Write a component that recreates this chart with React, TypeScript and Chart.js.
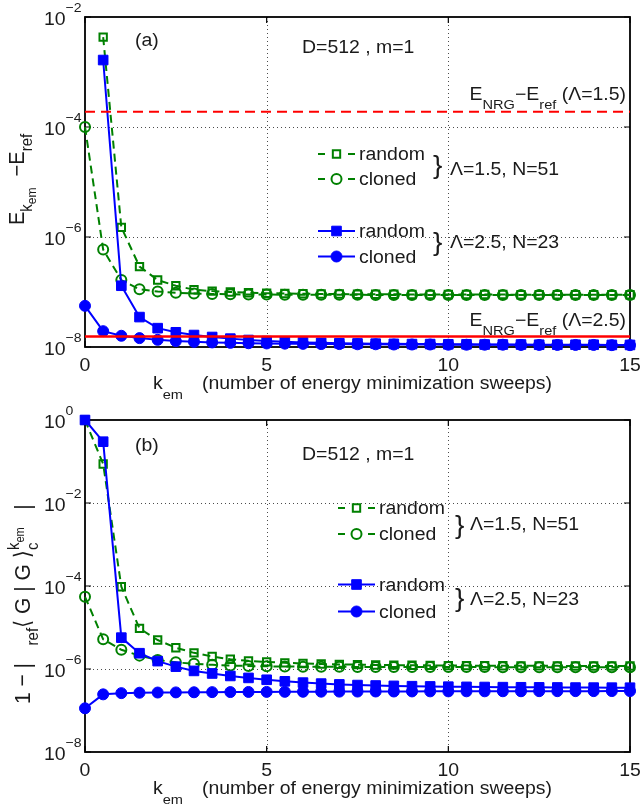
import { useEffect, useRef } from "react";
import { Chart, registerables } from "chart.js";
Chart.register(...registerables);

// ---------------- data ----------------
const kem = [0, 0.5, 1, 1.5, 2, 2.5, 3, 3.5, 4, 4.5, 5, 5.5, 6, 6.5, 7, 7.5, 8, 8.5, 9, 9.5, 10, 10.5, 11, 11.5, 12, 12.5, 13, 13.5, 14, 14.5, 15];

// panel (a): E_kem - E_ref
const energyRandom15 = [null, 4.3e-3, 1.5e-6, 2.9e-7, 1.65e-7, 1.3e-7, 1.1e-7, 1.04e-7, 1.0e-7, 9.7e-8, 9.5e-8, 9.4e-8, 9.3e-8, 9.2e-8, 9.2e-8, 9.1e-8, 9.1e-8, 9.1e-8, 9.0e-8, 9.0e-8, 9.0e-8, 9.0e-8, 9.0e-8, 9.0e-8, 8.9e-8, 8.9e-8, 8.9e-8, 8.9e-8, 8.9e-8, 8.9e-8, 8.9e-8];
const energyCloned15 = [1.0e-4, 5.9e-7, 1.65e-7, 1.12e-7, 1.02e-7, 9.7e-8, 9.4e-8, 9.2e-8, 9.1e-8, 9.0e-8, 9.0e-8, 8.9e-8, 8.9e-8, 8.9e-8, 8.9e-8, 8.9e-8, 8.8e-8, 8.8e-8, 8.8e-8, 8.8e-8, 8.8e-8, 8.8e-8, 8.8e-8, 8.8e-8, 8.8e-8, 8.8e-8, 8.8e-8, 8.8e-8, 8.8e-8, 8.8e-8, 8.8e-8];
const energyRandom25 = [null, 1.65e-3, 1.3e-7, 3.5e-8, 2.2e-8, 1.85e-8, 1.65e-8, 1.52e-8, 1.42e-8, 1.34e-8, 1.28e-8, 1.24e-8, 1.21e-8, 1.19e-8, 1.17e-8, 1.16e-8, 1.15e-8, 1.14e-8, 1.13e-8, 1.13e-8, 1.12e-8, 1.12e-8, 1.11e-8, 1.11e-8, 1.11e-8, 1.1e-8, 1.1e-8, 1.1e-8, 1.1e-8, 1.09e-8, 1.09e-8];
const energyCloned25 = [5.6e-8, 1.94e-8, 1.6e-8, 1.45e-8, 1.35e-8, 1.28e-8, 1.24e-8, 1.21e-8, 1.19e-8, 1.17e-8, 1.16e-8, 1.15e-8, 1.14e-8, 1.13e-8, 1.13e-8, 1.12e-8, 1.12e-8, 1.11e-8, 1.11e-8, 1.11e-8, 1.1e-8, 1.1e-8, 1.1e-8, 1.1e-8, 1.09e-8, 1.09e-8, 1.09e-8, 1.09e-8, 1.09e-8, 1.08e-8, 1.08e-8];
const nrgEnergy15 = 1.9e-4;
const nrgEnergy25 = 1.55e-8;

// panel (b): 1 - |<G|G>|
const overlapRandom15 = [1.0, 8.7e-2, 9.6e-5, 9.5e-6, 5.0e-6, 3.25e-6, 2.45e-6, 2.0e-6, 1.72e-6, 1.57e-6, 1.48e-6, 1.41e-6, 1.36e-6, 1.32e-6, 1.29e-6, 1.27e-6, 1.25e-6, 1.24e-6, 1.23e-6, 1.22e-6, 1.21e-6, 1.21e-6, 1.2e-6, 1.2e-6, 1.19e-6, 1.19e-6, 1.19e-6, 1.18e-6, 1.18e-6, 1.18e-6, 1.18e-6];
const overlapCloned15 = [5.5e-5, 5.2e-6, 2.9e-6, 2.1e-6, 1.65e-6, 1.45e-6, 1.33e-6, 1.26e-6, 1.21e-6, 1.18e-6, 1.16e-6, 1.15e-6, 1.14e-6, 1.13e-6, 1.13e-6, 1.12e-6, 1.12e-6, 1.12e-6, 1.11e-6, 1.11e-6, 1.11e-6, 1.11e-6, 1.11e-6, 1.1e-6, 1.1e-6, 1.1e-6, 1.1e-6, 1.1e-6, 1.1e-6, 1.1e-6, 1.1e-6];
const overlapRandom25 = [1.0, 0.3, 5.7e-6, 2.4e-6, 1.55e-6, 1.14e-6, 9.0e-7, 7.8e-7, 6.8e-7, 6.1e-7, 5.5e-7, 5.05e-7, 4.7e-7, 4.45e-7, 4.25e-7, 4.1e-7, 4.0e-7, 3.92e-7, 3.85e-7, 3.8e-7, 3.75e-7, 3.71e-7, 3.68e-7, 3.65e-7, 3.63e-7, 3.61e-7, 3.59e-7, 3.57e-7, 3.56e-7, 3.55e-7, 3.54e-7];
const overlapCloned25 = [1.13e-7, 2.45e-7, 2.62e-7, 2.68e-7, 2.71e-7, 2.73e-7, 2.75e-7, 2.77e-7, 2.78e-7, 2.8e-7, 2.81e-7, 2.82e-7, 2.83e-7, 2.84e-7, 2.85e-7, 2.86e-7, 2.87e-7, 2.87e-7, 2.88e-7, 2.89e-7, 2.89e-7, 2.9e-7, 2.9e-7, 2.91e-7, 2.91e-7, 2.92e-7, 2.92e-7, 2.93e-7, 2.93e-7, 2.94e-7, 2.94e-7];

// ticks
const xTicks = [0, 5, 10, 15];
const yTicksTop = [1e-2, 1e-4, 1e-6, 1e-8];
const yTicksBottom = [1, 1e-2, 1e-4, 1e-6, 1e-8];

// legend text
const legendNames = ["random", "cloned", "random", "cloned"];
const groupLabels = ["\u039b=1.5, N=51", "\u039b=2.5, N=23"];
const paramText = "D=512 , m=1";
const xTitle = "(number of energy minimization sweeps)";

// ---------------- styling ----------------
const GREEN = "rgb(0,128,0)";
const BLUE = "rgb(0,0,255)";
const RED = "rgb(255,0,0)";
const FONT = '"Liberation Sans", Arial, Helvetica, "DejaVu Sans", sans-serif';
const SX = 1.08;
const FS = 18;
const FSUB = 13.5;

type Seg = { t: string; s: number; dy?: number; adv?: boolean };

function richWidth(ctx: CanvasRenderingContext2D, segs: Seg[]) {
  let w = 0;
  for (const g of segs) {
    ctx.font = `${g.s}px ${FONT}`;
    if (g.adv !== false) w += ctx.measureText(g.t).width;
  }
  return w;
}

function drawRich(ctx: CanvasRenderingContext2D, segs: Seg[], x: number, y: number, align = "left", rot = 0, color = "#1a1a1a") {
  ctx.save();
  ctx.translate(x, y);
  ctx.scale(SX, 1);
  if (rot) ctx.rotate(rot);
  const w = richWidth(ctx, segs);
  let cx = align === "right" ? -w : align === "center" ? -w / 2 : 0;
  ctx.fillStyle = color;
  ctx.textBaseline = "alphabetic";
  ctx.textAlign = "left";
  for (const g of segs) {
    ctx.font = `${g.s}px ${FONT}`;
    ctx.fillText(g.t, cx, g.dy || 0);
    if (g.adv !== false) cx += ctx.measureText(g.t).width;
  }
  ctx.restore();
}

function drawMarker(ctx: CanvasRenderingContext2D, style: string, x: number, y: number, r: number, color: string, filled: boolean, bw: number) {
  ctx.beginPath();
  if (style === "rect") {
    const s = r * Math.SQRT1_2;
    ctx.rect(x - s, y - s, 2 * s, 2 * s);
  } else {
    ctx.arc(x, y, r, 0, Math.PI * 2);
  }
  ctx.setLineDash([]);
  if (filled) {
    ctx.fillStyle = color;
    ctx.fill();
  }
  ctx.lineWidth = bw;
  ctx.strokeStyle = color;
  ctx.stroke();
}

const seriesStyles = [
  { color: GREEN, style: "rect", r: 5.2, filled: false, dashed: true, bw: 2 },
  { color: GREEN, style: "circle", r: 5, filled: false, dashed: true, bw: 2 },
  { color: BLUE, style: "rect", r: 6.8, filled: true, dashed: false, bw: 1 },
  { color: BLUE, style: "circle", r: 5.5, filled: true, dashed: false, bw: 1 },
];

type PanelCfg = {
  canvasTop: number;
  height: number;
  padding: { left: number; right: number; top: number; bottom: number };
  yMin: number;
  yMax: number;
  yTicks: number[];
  series: (number | null)[][];
  refLines: { v: number; dashed: boolean }[];
  tag: string;
  tagPos: [number, number];
  paramPos: [number, number];
  nrgLabels: { y: number; lam: string }[];
  legend: { x0: number; x1: number; mx: number; tx: number; rows: number[]; braceX: number; labelX: number; braceY: number[]; labelY: number[] };
  yTitle: { segs: Seg[]; x: number; y: number };
};

function formatExp(v: number) {
  const e = Math.round(Math.log10(v));
  return e < 0 ? "\u2212" + String(-e) : String(e);
}

function makePlugin(p: PanelCfg) {
  return {
    id: "deco",
    beforeDatasetsDraw(chart: any) {
      const { ctx, chartArea: a, scales } = chart;
      const xs = scales.x;
      const ys = scales.y;
      ctx.save();
      // dotted grid
      ctx.strokeStyle = "rgba(0,0,0,0.7)";
      ctx.lineWidth = 1;
      ctx.setLineDash([1, 3]);
      for (const t of xTicks) {
        if (t <= xTicks[0] || t >= xTicks[xTicks.length - 1]) continue;
        const px = Math.round(xs.getPixelForValue(t)) + 0.5;
        ctx.beginPath();
        ctx.moveTo(px, a.top);
        ctx.lineTo(px, a.bottom);
        ctx.stroke();
      }
      for (const v of p.yTicks) {
        if (v <= p.yMin * 1.0001 || v >= p.yMax * 0.9999) continue;
        const py = Math.round(ys.getPixelForValue(v)) + 0.5;
        ctx.beginPath();
        ctx.moveTo(a.left, py);
        ctx.lineTo(a.right, py);
        ctx.stroke();
      }
      ctx.setLineDash([]);
      // box
      ctx.strokeStyle = "#000";
      ctx.lineWidth = 1.8;
      ctx.strokeRect(a.left, a.top, a.right - a.left, a.bottom - a.top);
      // inward ticks
      ctx.lineWidth = 1.2;
      const tl = 6;
      for (const t of xTicks) {
        const px = xs.getPixelForValue(t);
        ctx.beginPath();
        ctx.moveTo(px, a.bottom);
        ctx.lineTo(px, a.bottom - tl);
        ctx.moveTo(px, a.top);
        ctx.lineTo(px, a.top + tl);
        ctx.stroke();
      }
      for (const v of p.yTicks) {
        const py = ys.getPixelForValue(v);
        ctx.beginPath();
        ctx.moveTo(a.left, py);
        ctx.lineTo(a.left + tl, py);
        ctx.moveTo(a.right, py);
        ctx.lineTo(a.right - tl, py);
        ctx.stroke();
      }
      ctx.restore();
    },
    afterDatasetsDraw(chart: any) {
      const { ctx, chartArea: a, scales } = chart;
      const xs = scales.x;
      const ys = scales.y;
      ctx.save();
      // x tick labels
      for (const t of xTicks) {
        drawRich(ctx, [{ t: String(t), s: FS }], xs.getPixelForValue(t), a.bottom + 24, "center");
      }
      // y tick labels
      for (const v of p.yTicks) {
        const py = ys.getPixelForValue(v);
        drawRich(ctx, [{ t: "10", s: FS }, { t: formatExp(v), s: 13, dy: -13 }], 44, py + 8, "left");
      }
      // x title
      drawRich(ctx, [{ t: "k", s: FS }, { t: "em", s: FSUB, dy: 10 }], 153, a.bottom + 42, "left");
      drawRich(ctx, [{ t: xTitle, s: FS }], 202, a.bottom + 42, "left");
      // y title
      drawRich(ctx, p.yTitle.segs, p.yTitle.x, p.yTitle.y, "left", -Math.PI / 2);
      // tag and params
      drawRich(ctx, [{ t: p.tag, s: FS }], p.tagPos[0], p.tagPos[1]);
      drawRich(ctx, [{ t: paramText, s: FS }], p.paramPos[0], p.paramPos[1]);
      // NRG labels
      for (const n of p.nrgLabels) {
        drawRich(
          ctx,
          [
            { t: "E", s: FS },
            { t: "NRG", s: FSUB, dy: 9 },
            { t: "\u2212E", s: FS },
            { t: "ref", s: FSUB, dy: 9 },
            { t: " (" + n.lam + ")", s: FS },
          ],
          626,
          n.y,
          "right"
        );
      }
      // legend
      const L = p.legend;
      seriesStyles.forEach((st, i) => {
        const y = L.rows[i];
        ctx.save();
        ctx.strokeStyle = st.color;
        ctx.lineWidth = 2;
        ctx.setLineDash(st.dashed ? [7, L.x1 - L.x0 - 14] : []);
        ctx.beginPath();
        ctx.moveTo(L.x0, y);
        ctx.lineTo(L.x1, y);
        ctx.stroke();
        ctx.restore();
        drawMarker(ctx, st.style, L.mx, y, st.r, st.color, st.filled, st.bw);
        drawRich(ctx, [{ t: legendNames[i], s: FS }], L.tx, y + 6);
      });
      groupLabels.forEach((g, j) => {
        drawRich(ctx, [{ t: "}", s: 26 }], L.braceX, L.braceY[j] + 7);
        drawRich(ctx, [{ t: g, s: FS }], L.labelX, L.labelY[j]);
      });
      ctx.restore();
    },
  };
}

function buildDatasets(p: PanelCfg) {
  const ds: any[] = p.series.map((vals, i) => {
    const st = seriesStyles[i];
    return {
      data: kem.map((x, k) => ({ x, y: vals[k] })),
      borderColor: st.color,
      backgroundColor: st.color,
      borderWidth: 2,
      borderDash: st.dashed ? [8, 5] : [],
      pointStyle: st.style,
      pointRadius: st.r,
      pointBorderWidth: st.bw,
      pointBorderColor: st.color,
      pointBackgroundColor: st.filled ? st.color : "rgba(0,0,0,0)",
      spanGaps: false,
      tension: 0,
      clip: false,
      order: st.color === BLUE ? 2 : 4,
    };
  });
  p.refLines.forEach((r) => {
    ds.push({
      data: [
        { x: xTicks[0], y: r.v },
        { x: xTicks[xTicks.length - 1], y: r.v },
      ],
      borderColor: RED,
      borderWidth: r.dashed ? 2 : 2.5,
      borderDash: r.dashed ? [10, 6] : [],
      pointRadius: 0,
      clip: false,
      order: 0,
    });
  });
  return ds;
}

const topPanel: PanelCfg = {
  canvasTop: 0,
  height: 400,
  padding: { left: 85, right: 11, top: 17, bottom: 53 },
  yMin: 1e-8,
  yMax: 1e-2,
  yTicks: yTicksTop,
  series: [energyRandom15, energyCloned15, energyRandom25, energyCloned25],
  refLines: [
    { v: nrgEnergy15, dashed: true },
    { v: nrgEnergy25, dashed: false },
  ],
  tag: "(a)",
  tagPos: [135, 46],
  paramPos: [302, 53],
  nrgLabels: [
    { y: 100, lam: "\u039b=1.5" },
    { y: 326, lam: "\u039b=2.5" },
  ],
  legend: { x0: 318, x1: 355, mx: 336.5, tx: 359, rows: [154, 179, 231, 256.5], braceX: 433, labelX: 450, braceY: [167, 244], labelY: [175, 248] },
  yTitle: {
    segs: [
      { t: "E", s: 20 },
      { t: "k", s: 15, dy: 7 },
      { t: "em", s: 12, dy: 11 },
      { t: "  \u2212E", s: 20 },
      { t: "ref", s: 15, dy: 7 },
    ],
    x: 24,
    y: 225,
  },
};

const bottomPanel: PanelCfg = {
  canvasTop: 400,
  height: 405,
  padding: { left: 85, right: 11, top: 20, bottom: 53 },
  yMin: 1e-8,
  yMax: 1,
  yTicks: yTicksBottom,
  series: [overlapRandom15, overlapCloned15, overlapRandom25, overlapCloned25],
  refLines: [],
  tag: "(b)",
  tagPos: [135, 51],
  paramPos: [302, 60],
  nrgLabels: [],
  legend: { x0: 338, x1: 375, mx: 356.5, tx: 379, rows: [108, 134, 184.5, 211.5], braceX: 455, labelX: 470, braceY: [126.5, 200], labelY: [130, 205] },
  yTitle: {
    segs: [
      { t: "1 \u2212 |   ", s: 21 },
      { t: "ref", s: 15, dy: 7 },
      { t: "\u27e8 G | G \u27e9", s: 21 },
      { t: "c", s: 15, dy: 7, adv: false },
      { t: "k", s: 15, dy: -10 },
      { t: "em", s: 11, dy: -6 },
      { t: "   |", s: 21 },
    ],
    x: 30,
    y: 304,
  },
};

function Panel({ cfg }: { cfg: PanelCfg }) {
  const ref = useRef<HTMLCanvasElement | null>(null);
  useEffect(() => {
    if (!ref.current) return;
    const chart = new Chart(ref.current, {
      type: "line",
      data: { datasets: buildDatasets(cfg) },
      options: {
        animation: false,
        responsive: false,
        maintainAspectRatio: false,
        events: [],
        layout: { padding: cfg.padding },
        scales: {
          x: { type: "linear", min: xTicks[0], max: xTicks[xTicks.length - 1], display: false },
          y: { type: "logarithmic", min: cfg.yMin, max: cfg.yMax, display: false },
        },
        plugins: { legend: { display: false }, tooltip: { enabled: false } },
      } as any,
      plugins: [makePlugin(cfg) as any],
    });
    return () => chart.destroy();
  }, [cfg]);
  return (
    <canvas
      ref={ref}
      width={641}
      height={cfg.height}
      style={{ position: "absolute", left: 0, top: cfg.canvasTop, width: 641, height: cfg.height, display: "block" }}
    />
  );
}

export default function App() {
  return (
    <div style={{ position: "fixed", left: 0, top: 0, width: 641, height: 805, background: "#fff", overflow: "hidden" }}>
      <Panel cfg={topPanel} />
      <Panel cfg={bottomPanel} />
    </div>
  );
}
